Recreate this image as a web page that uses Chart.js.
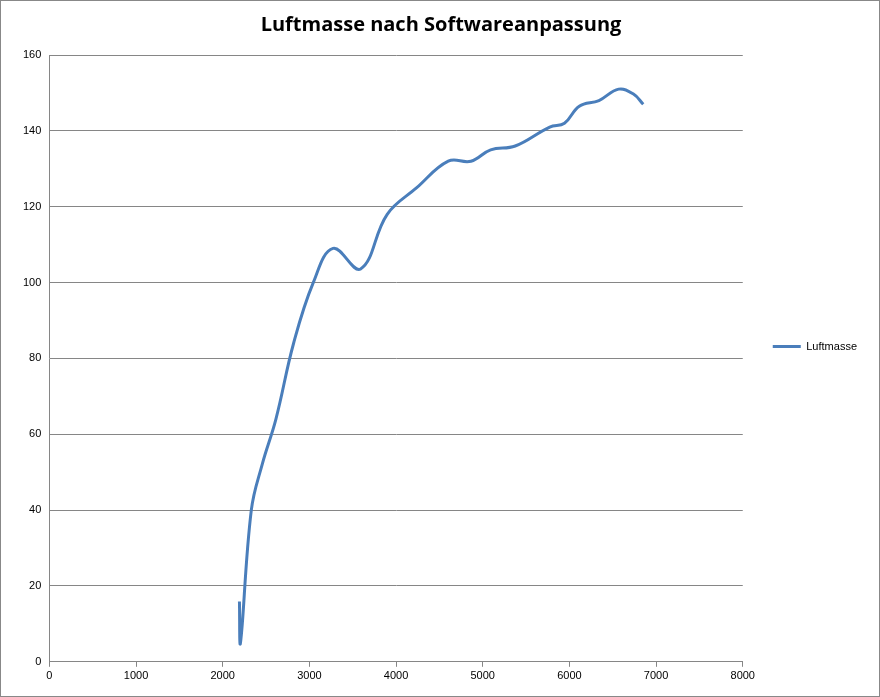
<!DOCTYPE html>
<html>
<head>
<script src="https://cdn.jsdelivr.net/npm/chart.js@4"></script>
<style>
  body { margin: 0; background: #fff; }
  #wrap { position: absolute; left: 0; top: 0; width: 878px; height: 695px; border: 1px solid #888; }
</style>
</head>
<body>
<div id="wrap"><canvas id="chart" width="878" height="695"></canvas></div>
<script>
// Drehzahl und Luftmasse
const rpm = [2193, 2205, 2330, 2455, 2614, 2818, 3045, 3273, 3591, 3898, 4239, 4602, 4864, 5091, 5375, 5773, 5943, 6114, 6341, 6568, 6739, 6852];
const luftmasse = [15.9, 5, 40, 52, 64, 84, 100, 109, 103.6, 118, 125, 132, 132, 135, 136, 141, 142, 146.5, 148, 151, 149.7, 147];

const points = rpm.map((x, i) => ({ x: x, y: luftmasse[i] }));

new Chart(document.getElementById('chart'), {
    type: 'line',
    data: {
        datasets: [{
            label: 'Luftmasse',
            data: points,
            borderColor: '#4a7ebb',
            backgroundColor: '#4a7ebb',
            borderWidth: 3,
            pointRadius: 0,
            pointStyle: 'line',
            tension: 0.4
        }]
    },
    options: {
        responsive: false,
        animation: false,
        layout: { padding: { left: 14, right: 12, top: 6, bottom: 10 } },
        plugins: {
            title: {
                display: true,
                text: 'Luftmasse nach Softwareanpassung',
                color: '#000',
                font: { family: 'Open Sans', size: 20, weight: 'bold' },
                padding: { top: 6, bottom: 18 }
            },
            legend: {
                position: 'right',
                labels: {
                    color: '#000',
                    font: { family: 'Liberation Sans', size: 11 },
                    usePointStyle: true,
                    pointStyleWidth: 28,
                    padding: 30
                }
            },
            tooltip: { enabled: false }
        },
        scales: {
            x: {
                type: 'linear',
                min: 0,
                max: 8000,
                ticks: { stepSize: 1000, color: '#000', font: { family: 'Liberation Sans', size: 11 },
                         callback: v => String(v) },
                grid: { display: true, drawOnChartArea: false, drawTicks: true, tickLength: 5, color: '#868686' },
                border: { color: '#868686' }
            },
            y: {
                min: 0,
                max: 160,
                ticks: { stepSize: 20, color: '#000', font: { family: 'Liberation Sans', size: 11 }, padding: 8 },
                grid: { color: '#868686', drawTicks: false },
                border: { color: '#868686' }
            }
        }
    }
});
</script>
</body>
</html>
